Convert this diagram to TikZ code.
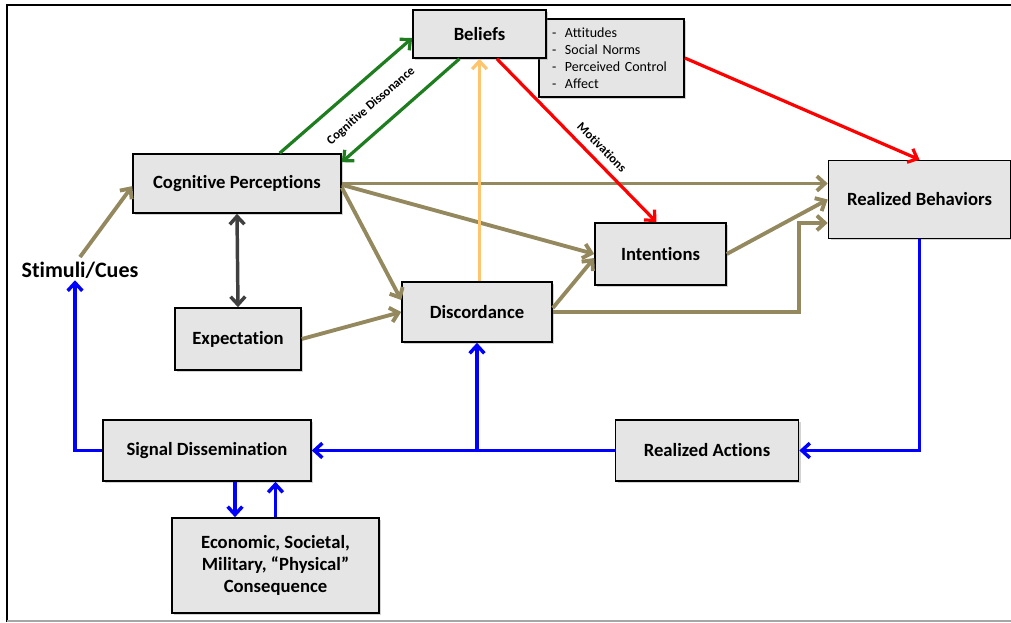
\documentclass[tikz,border=0pt]{standalone}
\usepackage{fontspec}
\setmainfont{Carlito}[Ligatures=NoCommon]
\usetikzlibrary{arrows.meta,shadows}
\definecolor{olivegray}{RGB}{148,137,94}
\definecolor{dissgreen}{RGB}{30,125,30}
\definecolor{softorange}{RGB}{255,197,110}
\tikzset{
  box/.style={draw, line width=1.2pt, fill=gray!20, align=center, inner sep=2pt,
    drop shadow={shadow xshift=1.5pt,shadow yshift=-1.5pt,opacity=0.35},
    font=\bfseries\fontsize{14}{16.5}\selectfont},
  barbtip/.style={-{Straight Barb[length=6pt,width=11pt]}},
  olivearrow/.style={barbtip, draw=olivegray, line width=2.9pt},
  bluearrow/.style={barbtip, draw=blue, line width=2.6pt},
  greenarrow/.style={barbtip, draw=dissgreen, line width=2.4pt},
  redarrow/.style={barbtip, draw=red, line width=2.4pt},
  arrowlabel/.style={font=\bfseries\fontsize{9.5}{10}\selectfont, inner sep=1pt}
}
\begin{document}
\begin{tikzpicture}[x=0.75pt,y=0.75pt]
\useasboundingbox (0,0) rectangle (1011,623);
% frame
\draw[line width=2.2pt] (7,1) -- (7,618) -- (1011,618);
\draw[gray!70, line width=1.5pt] (7,2) -- (1011,2);

% boxes
\node[draw, line width=1.2pt, fill=gray!20, drop shadow={shadow xshift=1.5pt,shadow yshift=-1.5pt,opacity=0.35},
  minimum width=108.75pt, minimum height=58.5pt, text width=89.25pt, inner xsep=9.75pt, align=left,
  font=\fontsize{10.5}{12.75}\selectfont] (attr) at (611.5,565)
  {\makebox[9.75pt][l]{-}Attitudes\\ \makebox[9.75pt][l]{-}Social Norms\\
   \makebox[9.75pt][l]{-}Perceived Control\\ \makebox[9.75pt][l]{-}Affect};
\node[box, minimum width=99.75pt, minimum height=36pt] (beliefs) at (479.5,589) {Beliefs};
\node[box, minimum width=156pt, minimum height=44.25pt] (cog) at (237,439.5) {Cognitive Perceptions};
\node[font=\bfseries\fontsize{16.5}{18}\selectfont] (stim) at (80,353) {Stimuli/Cues};
\node[box, minimum width=94.5pt, minimum height=46.5pt] (expect) at (238,284) {Expectation};
\node[box, minimum width=112.5pt, minimum height=45pt] (disc) at (477,311) {Discordance};
\node[box, minimum width=98.25pt, minimum height=46.5pt] (intent) at (660.5,369) {Intentions};
\node[box, minimum width=136.5pt, minimum height=58.5pt] (rb) at (919.5,423.5) {Realized Behaviors};
\node[box, minimum width=156pt, minimum height=45.75pt] (sd) at (207,172.5) {Signal Dissemination};
\node[box, minimum width=137.25pt, minimum height=45.75pt] (ra) at (707,172.5) {Realized Actions};
\node[box, minimum width=155.25pt, minimum height=71.25pt] (econ) at (275.5,57.5)
  {Economic, Societal,\\ Military, “Physical”\\ Consequence};

% olive arrows
\draw[olivearrow] (stim.north) -- ([yshift=-2pt]cog.west);
\draw[olivearrow] (cog.east) -- (cog.east -| rb.west);
\draw[olivearrow] ([yshift=-1pt]cog.east) -- (intent.west);
\draw[olivearrow] ([yshift=-3pt]cog.east) -- ([yshift=9pt]disc.west);
\draw[olivearrow] (expect.east) -- (disc.west);
\draw[olivearrow] ([yshift=3pt]disc.east) -- ([yshift=-3pt]intent.west);
\draw[olivearrow] (disc.east) -- ++(246,0) |- ([yshift=-17.6pt]rb.west);
\draw[olivearrow] (intent.east) -- (rb.west);
\draw[barbtip, draw=softorange, line width=2.4pt] (beliefs.south |- disc.north) -- (beliefs.south);

% green and red arrows
\draw[greenarrow] ([xshift=32pt]cog.north) -- ([yshift=-3pt]beliefs.west);
\draw[greenarrow] ([xshift=-15pt]beliefs.south) -- ([yshift=-6.75pt]cog.north east);
\node[arrowlabel, rotate=41] at (371,517) {Cognitive Dissonance};
\draw[redarrow] ([xshift=13pt]beliefs.south) -- ([xshift=-3pt]intent.north);
\node[arrowlabel, rotate=-45] at (602,476) {Motivations};
\draw[redarrow] (attr.east) -- (rb.north);
\draw[{Straight Barb[length=6pt,width=11pt]}-{Straight Barb[length=6pt,width=11pt]}, draw=black!75, line width=2.6pt]
  (cog.south) -- (expect.north);

% blue arrows
\draw[bluearrow] (rb.south) |- (ra.east);
\draw[bluearrow] (ra.west) -- (sd.east);
\draw[bluearrow] (disc.south |- sd.east) -- (disc.south);
\draw[bluearrow] (sd.west) -| ([xshift=-3.75pt,yshift=2pt]stim.south);
\draw[bluearrow] ([xshift=21pt]sd.south) -- ([xshift=21pt]sd.south |- econ.north);
\draw[bluearrow] (econ.north) -- (econ.north |- sd.south);
\end{tikzpicture}
\end{document}
